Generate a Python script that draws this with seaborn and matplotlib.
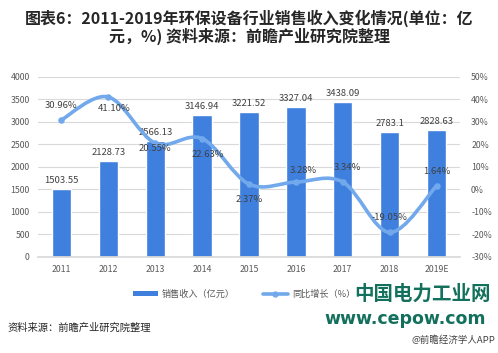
import numpy as np
import pandas as pd
import matplotlib
matplotlib.use("Agg")
import matplotlib.pyplot as plt
from matplotlib.path import Path
from matplotlib.patches import PathPatch
from matplotlib.lines import Line2D
from matplotlib.patches import Patch
from matplotlib.ticker import FuncFormatter, MultipleLocator
import seaborn as sns

# 数据
years = ["2011", "2012", "2013", "2014", "2015", "2016", "2017", "2018", "2019E"]
revenue = [1503.55, 2128.73, 2566.13, 3146.94, 3221.52, 3327.04, 3438.09, 2783.1, 2828.63]
growth = [30.96, 41.10, 20.55, 22.63, 2.37, 3.28, 3.34, -19.05, 1.64]
revenue_labels = ["1503.55", "2128.73", "2566.13", "3146.94", "3221.52", "3327.04", "3438.09", "2783.1", "2828.63"]

# 增长率标签偏移（points）
growth_offsets = [(0, 10), (4, -8), (0, -4), (4, -11.5), (0, -11), (5, 8.5), (3, 10.5), (0, 10.5), (0, 10.5)]

sns.set_theme(style="white")
plt.rcParams['font.family'] = ['Noto Sans CJK SC', 'DejaVu Sans']

bar_color = "#3f80df"
line_color = "#72a9ec"
tick_color = "#595959"
label_color = "#404040"

df = pd.DataFrame({"year": years, "revenue": revenue, "growth": growth})

fig = plt.figure(figsize=(4.98, 3.53), dpi=100)
ax = fig.add_axes([0.0763, 0.272, 0.8474, 0.51])

sns.barplot(data=df, x="year", y="revenue", color=bar_color, width=0.41,
            saturation=1, ax=ax, zorder=2)
ax.set_ylim(0, 4000)
ax.set_xlim(-0.5, len(years) - 0.5)
ax.yaxis.set_major_locator(MultipleLocator(500))
ax.grid(axis="y", color="#d9d9d9", linewidth=0.8, zorder=0)
ax.set_axisbelow(True)
ax.set_xlabel("")
ax.set_ylabel("")
for s in ["top", "right", "left"]:
    ax.spines[s].set_visible(False)
ax.spines["bottom"].set_color("#d9d9d9")
ax.tick_params(axis="both", length=0, labelsize=6.3, colors=tick_color, pad=6)

for i, (v, t) in enumerate(zip(revenue, revenue_labels)):
    ax.annotate(t, (i, v), xytext=(0, 3), textcoords="offset points",
                ha="center", va="bottom", fontsize=6.8, color=label_color)

ax2 = ax.twinx()
ax2.set_ylim(-30, 50)
ax2.yaxis.set_major_locator(MultipleLocator(10))
ax2.yaxis.set_major_formatter(FuncFormatter(lambda v, p: f"{v:.0f}%"))
for s in ax2.spines.values():
    s.set_visible(False)
ax2.tick_params(axis="y", length=0, labelsize=6.3, colors=tick_color, pad=8)
ax2.grid(False)

# 平滑曲线 (Catmull-Rom -> Bezier)
xs = np.arange(len(growth), dtype=float)
ys = np.array(growth, dtype=float)
pts = np.column_stack([xs, ys])
verts = [tuple(pts[0])]
codes = [Path.MOVETO]
n = len(pts)
for i in range(n - 1):
    p0 = pts[i - 1] if i > 0 else pts[i]
    p1 = pts[i]
    p2 = pts[i + 1]
    p3 = pts[i + 2] if i + 2 < n else pts[i + 1]
    c1 = p1 + (p2 - p0) / 6.0
    c2 = p2 - (p3 - p1) / 6.0
    verts += [tuple(c1), tuple(c2), tuple(p2)]
    codes += [Path.CURVE4] * 3
ax2.add_patch(PathPatch(Path(verts, codes), facecolor="none", edgecolor=line_color,
                        linewidth=2.6, capstyle="round", zorder=3))
sns.scatterplot(x=xs, y=ys, ax=ax2, color=line_color, s=22, edgecolor=line_color,
                linewidth=0, zorder=4, legend=False)

for i, (v, off) in enumerate(zip(growth, growth_offsets)):
    ax2.annotate(f"{v:.2f}%", (i, v), xytext=off, textcoords="offset points",
                 ha="center", va="center", fontsize=6.8, color=label_color, zorder=5)

# 标题
fig.text(0.5, 0.972, "图表6：2011-2019年环保设备行业销售收入变化情况(单位：亿\n元，%) 资料来源：前瞻产业研究院整理",
         ha="center", va="top", fontsize=11.5, fontweight="bold", color="#262626",
         linespacing=1.0)

# 图例
handles = [Patch(facecolor=bar_color, edgecolor="none"),
           Line2D([0], [0], color=line_color, linewidth=2.6, marker="o", markersize=3.5)]
fig.legend(handles, ["销售收入（亿元）", "同比增长（%）"], loc="center",
           bbox_to_anchor=(0.49, 0.167), ncol=2, frameon=False, fontsize=6.6,
           handlelength=2.8, handleheight=0.6, columnspacing=3.0, handletextpad=0.4,
           labelcolor=tick_color)

fig.text(0.016, 0.073, "资料来源：前瞻产业研究院整理", ha="left", va="center",
         fontsize=7.4, color="#262626")
fig.text(0.995, 0.035, "@前瞻经济学人APP", ha="right", va="center",
         fontsize=6.8, color="#404040")

# 水印
fig.text(0.985, 0.167, "中国电力工业网", ha="right", va="center", fontsize=14,
         fontweight="bold", color="#12705c")
fig.text(0.975, 0.095, "www.cepow.com", ha="right", va="center", fontsize=12.5,
         fontweight="bold", color="#12705c", family=["DejaVu Sans"])

fig.savefig("out.png", dpi=100)
